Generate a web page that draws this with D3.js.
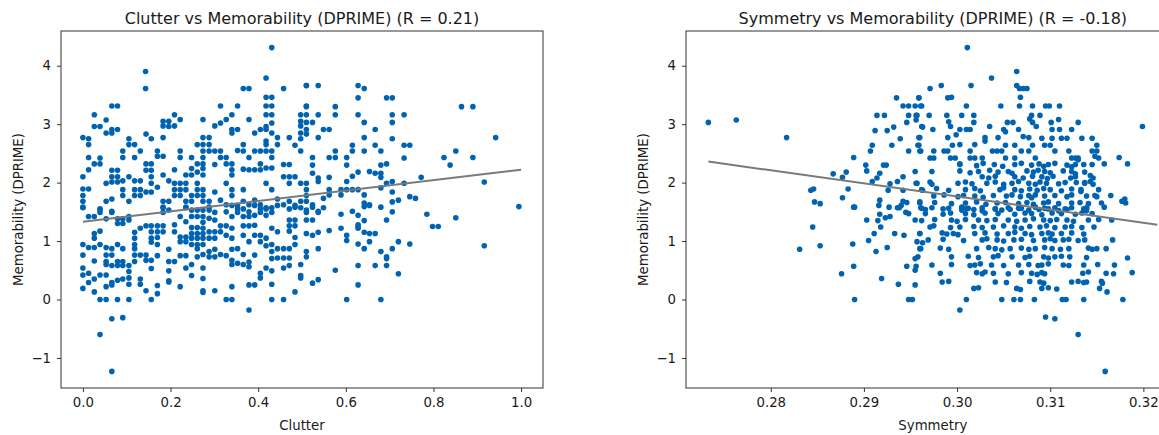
<!DOCTYPE html>
<html>
<head>
<meta charset="utf-8">
<script src="https://cdn.jsdelivr.net/npm/d3@7"></script>
<style>
  body { margin: 0; background: #fff; }
  text { font-family: "DejaVu Sans", sans-serif; fill: #1a1a1a; }
</style>
</head>
<body>
<script>
// clutter vs memorability (clutter, dprime)
const clutterPoints = [
  [0.431,4.31],[0.143,3.90],[0.143,3.61],[0.418,3.79],[0.366,3.61],[0.379,3.61],[0.458,3.61],[0.51,3.66],
  [0.418,3.46],[0.431,3.46],[0.418,3.31],[0.431,3.31],[0.314,3.31],[0.353,3.31],[0.066,3.31],[0.079,3.31],
  [0.026,3.16],[0.418,3.16],[0.431,3.16],[0.340,3.16],[0.209,3.16],[0.497,3.16],
  [0.026,2.96],[0.039,2.96],[0.053,3.07],[0.053,2.85],[0.066,2.85],[0.066,2.91],[0.079,2.91],
  [0.0,2.77],[0.013,2.75],[0.013,2.65],[0.144,2.83],[0.156,2.75],
  [0.183,3.05],[0.183,2.97],[0.196,3.05],[0.196,2.96],[0.209,2.97],[0.222,3.08],[0.183,2.77],
  [0.274,3.08],[0.301,2.97],[0.314,3.02],[0.327,3.08],[0.340,2.91],[0.340,2.85],[0.353,2.91],[0.379,3.08],
  [0.392,2.85],[0.405,2.91],[0.418,2.96],[0.418,2.91],[0.431,3.02],[0.431,2.85],[0.444,2.77],[0.471,2.77],
  [0.497,3.05],[0.497,2.97],[0.497,2.85],[0.497,2.75],[0.51,3.31],
  [0.105,2.75],[0.105,2.65],[0.118,2.65],[0.091,2.54],[0.091,2.43],[0.118,2.43],[0.131,2.54],
  [0.013,2.43],[0.026,2.32],[0.039,2.32],[0.039,2.42],[0.0,2.10],[0.013,2.22],[0.0,1.89],[0.013,1.89],
  [0.0,1.78],[0.0,1.68],[0.0,1.58],[0.039,1.54],[0.053,1.99],
  [0.066,2.21],[0.066,2.10],[0.066,2.01],[0.079,2.21],[0.079,2.10],[0.079,2.01],
  [0.053,1.68],[0.066,1.72],[0.066,1.51],[0.091,2.03],[0.091,1.88],[0.091,1.78],
  [0.105,2.10],[0.118,2.03],[0.131,2.03],[0.118,1.88],[0.131,1.88],[0.118,1.78],[0.131,1.78],
  [0.144,2.32],[0.144,2.21],[0.156,2.32],[0.156,2.21],[0.156,2.10],[0.156,1.99],[0.156,1.84],
  [0.170,2.54],[0.170,2.45],[0.183,2.45],[0.183,2.13],[0.170,1.92],[0.144,1.84],[0.196,2.03],[0.209,2.22],
  [0.209,1.99],[0.209,1.88],[0.209,1.78],[0.222,1.99],[0.222,1.88],[0.222,1.78],[0.222,2.54],[0.222,2.43],
  [0.235,2.13],[0.235,1.99],[0.235,1.88],[0.235,1.68],[0.235,1.58],
  [0.248,2.43],[0.248,2.24],[0.248,2.13],[0.261,2.65],[0.261,2.32],[0.261,2.18],
  [0.274,2.77],[0.274,2.65],[0.274,2.54],[0.274,2.43],[0.274,2.32],[0.274,2.24],[0.274,2.13],
  [0.288,2.77],[0.288,2.65],[0.288,2.54],[0.301,2.54],[0.314,2.54],[0.314,2.43],[0.327,2.43],[0.327,2.32],
  [0.340,2.32],[0.340,2.22],[0.340,2.13],[0.301,2.31],
  [0.353,2.55],[0.366,2.65],[0.366,2.54],[0.379,2.43],[0.392,2.54],[0.405,2.54],[0.418,2.54],[0.431,2.54],
  [0.366,2.23],[0.379,2.22],[0.392,2.22],[0.405,2.22],[0.418,2.25],[0.431,2.25],[0.405,2.32],[0.431,2.43],[0.418,2.65],[0.418,2.71],
  [0.444,2.65],[0.458,2.31],[0.471,2.31],[0.458,2.10],[0.471,2.10],[0.484,2.10],[0.471,1.99],[0.484,2.64],[0.497,2.54],[0.497,1.99],[0.51,1.99],
  [0.418,1.99],[0.431,1.88],[0.366,1.88],[0.366,1.68],[0.327,1.99],[0.340,1.88],[0.340,1.78],[0.301,1.84],
  [0.261,1.99],[0.261,1.88],[0.261,1.78],[0.274,1.88],[0.274,1.78],[0.274,1.68],[0.248,1.78],[0.248,1.68],
  [0.288,1.68],[0.288,1.58],[0.183,1.68],[0.183,1.58],[0.196,1.68],[0.105,1.68],
  [0.314,1.70],[0.327,1.62],[0.379,1.62],[0.392,1.70],[0.405,1.62],[0.444,1.72],[0.458,1.62],[0.471,1.68],[0.484,1.58],[0.353,1.55],[0.418,1.55],
  [0.0,1.57],[0.013,1.42],[0.026,1.42],[0.039,1.55],[0.039,1.49],[0.053,1.38],[0.066,1.49],[0.079,1.38],[0.079,1.30],[0.091,1.38],[0.091,1.30],
  [0.105,1.42],[0.105,1.36],[0.131,1.22],[0.144,1.26],[0.156,1.26],[0.156,1.16],[0.156,1.05],[0.156,0.98],
  [0.170,1.26],[0.170,1.16],[0.170,1.06],[0.183,1.26],[0.183,1.16],[0.183,1.57],[0.183,1.49],[0.196,1.53],
  [0.209,1.28],[0.209,1.16],[0.222,1.42],[0.235,1.33],[0.235,1.57],
  [0.248,1.53],[0.248,1.42],[0.261,1.53],[0.261,1.42],[0.274,1.53],[0.274,1.42],[0.288,1.53],[0.288,1.39],[0.301,1.49],[0.301,1.36],
  [0.222,1.07],[0.222,0.99],[0.235,1.07],[0.235,0.99],[0.248,1.23],[0.248,1.13],[0.248,1.05],[0.248,0.94],
  [0.261,1.23],[0.261,1.13],[0.261,1.05],[0.261,0.94],[0.261,0.87],[0.274,1.32],[0.274,1.22],[0.274,1.13],[0.274,1.05],[0.274,0.94],
  [0.288,1.16],[0.288,1.05],[0.301,1.16],[0.301,1.05],[0.314,1.26],[0.314,1.16],[0.327,1.26],[0.327,1.10],[0.340,1.22],[0.340,1.05],
  [0.327,1.50],[0.340,1.42],[0.340,1.61],[0.353,1.61],[0.353,1.49],[0.366,1.55],[0.366,1.42],[0.379,1.50],[0.379,1.42],[0.392,1.61],[0.392,1.44],
  [0.405,1.55],[0.405,1.49],[0.418,1.57],[0.418,1.44],[0.431,1.57],[0.431,1.49],[0.444,1.61],
  [0.471,1.55],[0.471,1.36],[0.471,1.26],[0.471,1.17],[0.484,1.61],[0.497,1.57],[0.484,1.36],[0.484,1.26],
  [0.366,1.26],[0.366,1.10],[0.379,1.26],[0.379,0.99],[0.392,1.27],[0.392,1.10],[0.405,1.10],[0.405,0.99],[0.418,1.05],[0.431,1.22],[0.431,0.94],[0.444,1.16],
  [0.0,0.94],[0.0,0.76],[0.013,0.89],[0.026,0.89],[0.026,1.13],[0.026,1.05],[0.039,1.17],[0.039,0.94],[0.053,0.89],[0.053,0.76],[0.053,0.65],[0.053,0.60],
  [0.066,0.87],[0.066,0.76],[0.066,0.58],[0.079,0.94],[0.079,0.65],[0.079,0.58],[0.091,0.87],[0.091,0.65],[0.091,0.58],
  [0.105,0.58],[0.105,0.48],[0.105,0.37],[0.105,0.26],
  [0.118,1.15],[0.118,1.05],[0.118,0.94],[0.118,0.87],[0.118,0.76],[0.118,0.65],
  [0.131,0.76],[0.144,0.76],[0.144,0.67],[0.156,0.67],[0.156,0.53],[0.170,0.75],[0.170,0.94],
  [0.196,0.86],[0.196,0.65],[0.196,0.49],[0.196,0.32],[0.209,0.65],
  [0.222,0.75],[0.235,0.75],[0.235,0.54],[0.248,0.60],[0.248,0.41],[0.261,0.73],[0.274,0.77],[0.274,0.54],[0.274,0.36],
  [0.288,0.82],[0.288,0.73],[0.301,0.86],[0.301,0.73],[0.314,0.77],[0.327,0.75],[0.340,0.86],[0.340,0.67],[0.340,0.60],
  [0.353,0.87],[0.353,0.62],[0.366,0.77],[0.366,0.60],[0.379,0.64],[0.379,0.56],[0.392,0.76],[0.405,0.45],
  [0.418,0.92],[0.418,0.54],[0.431,0.82],[0.431,0.70],[0.431,0.49],[0.444,0.87],[0.444,0.71],[0.458,0.87],[0.458,0.71],[0.458,0.54],
  [0.471,0.87],[0.471,0.71],[0.471,0.58],[0.484,1.06],[0.484,0.94],[0.497,0.60],[0.497,0.41],
  [0.0,0.54],[0.0,0.42],[0.0,0.19],[0.013,0.45],[0.013,0.29],[0.026,0.66],[0.026,0.35],[0.026,0.13],[0.039,0.42],[0.039,0.0],
  [0.053,0.42],[0.053,0.22],[0.053,0.0],[0.066,0.29],[0.066,0.25],[0.079,0.33],[0.079,0.0],[0.091,0.35],[0.105,0.0],
  [0.131,0.35],[0.131,0.26],[0.144,0.15],[0.156,0.0],[0.170,0.24],[0.170,0.10],[0.196,0.30],[0.222,0.22],
  [0.274,0.15],[0.274,0.12],[0.301,0.15],[0.327,0.0],[0.340,0.0],[0.340,0.22],[0.379,0.25],[0.392,0.25],[0.405,0.37],[0.431,0.26],[0.431,0.0],
  [0.458,0.0],[0.484,0.13],[0.497,0.37],
  [0.066,-0.33],[0.091,-0.31],[0.039,-0.60],[0.066,-1.23],[0.379,-0.18],
  [0.510,3.66],[0.537,3.66],[0.628,3.66],[0.642,3.61],[0.628,3.45],[0.693,3.45],[0.706,3.45],
  [0.510,3.30],[0.576,3.30],[0.864,3.30],[0.890,3.30],
  [0.510,3.16],[0.537,3.16],[0.576,3.16],[0.628,3.16],[0.706,3.16],[0.733,3.16],
  [0.510,3.03],[0.524,3.03],[0.642,3.03],[0.706,3.03],
  [0.510,2.91],[0.510,2.83],[0.549,2.91],[0.562,2.91],[0.667,2.91],
  [0.537,2.77],[0.642,2.77],[0.706,2.75],[0.942,2.77],
  [0.615,2.64],[0.667,2.64],[0.733,2.64],[0.746,2.64],
  [0.524,2.43],[0.562,2.43],[0.576,2.43],[0.576,2.54],[0.602,2.43],[0.615,2.54],[0.642,2.54],[0.680,2.54],
  [0.602,2.30],[0.628,2.18],[0.693,2.32],[0.680,2.30],[0.733,2.42],
  [0.824,2.43],[0.890,2.43],[0.851,2.54],[0.838,2.30],
  [0.524,2.30],[0.524,2.16],[0.537,2.08],[0.537,2.02],[0.562,2.09],[0.602,2.02],[0.615,2.11],[0.654,2.19],[0.667,2.16],[0.680,2.16],[0.680,2.09],[0.706,2.02],[0.693,1.99],[0.733,1.99],[0.772,2.09],
  [0.510,1.88],[0.510,1.78],[0.497,1.68],[0.510,1.68],[0.524,1.62],[0.537,1.51],[0.549,1.73],[0.562,1.88],[0.562,1.79],[0.589,1.88],[0.589,1.79],[0.602,1.88],[0.615,1.88],[0.628,1.88],[0.642,1.79],[0.642,1.65],[0.654,1.62],[0.680,1.91],[0.706,1.84],[0.706,1.67],[0.720,1.70],[0.746,1.76],[0.759,1.73],[0.916,2.01],[0.995,1.59],
  [0.785,1.46],[0.851,1.40],[0.798,1.25],[0.811,1.25],[0.916,0.92],
  [0.510,1.53],[0.510,1.49],[0.510,1.36],[0.524,1.36],[0.537,1.49],[0.524,1.58],[0.549,1.57],[0.589,1.46],[0.615,1.51],[0.628,1.44],[0.642,1.35],[0.693,1.36],[0.706,1.50],[0.642,1.59],[0.654,1.61],[0.680,1.58],
  [0.510,1.13],[0.524,1.10],[0.537,1.15],[0.562,1.18],[0.589,1.22],[0.602,1.10],[0.602,1.01],[0.628,1.28],[0.628,1.25],[0.628,1.22],[0.642,1.15],[0.654,1.13],[0.667,1.13],[0.654,0.99],[0.628,0.95],[0.642,0.87],[0.680,0.82],[0.693,0.73],[0.693,0.70],[0.706,0.87],[0.720,0.99],[0.746,0.95],
  [0.537,0.87],[0.510,0.82],[0.510,0.73],[0.524,0.28],[0.537,0.34],[0.576,0.50],[0.628,0.58],[0.667,0.58],[0.693,0.58],[0.720,0.44],[0.628,0.25],[0.602,0.0],[0.680,0.0]
];

// symmetry vs memorability (symmetry, dprime)
const symmetryPoints = [
  [0.2733,3.03],[0.2763,3.07],[0.2817,2.77],[0.2935,3.45],
  [0.2942,3.31],[0.2948,3.31],[0.2955,3.31],[0.2959,3.45],[0.2961,3.31],[0.2948,3.15],[0.2956,3.15],[0.2946,3.03],[0.2956,3.07],[0.2963,2.95],
  [0.2914,3.15],[0.2922,3.15],[0.2912,2.89],[0.2925,2.89],[0.2932,2.95],
  [0.2909,2.64],[0.2907,2.54],[0.2930,2.64],[0.2939,2.75],[0.2960,2.77],[0.2958,2.64],[0.2960,2.54],[0.2948,2.54],
  [0.2889,2.43],[0.2902,2.30],[0.2903,2.20],[0.2921,2.30],[0.2924,2.30],[0.2917,2.16],[0.2914,2.08],[0.2909,2.02],
  [0.2867,2.15],[0.2881,2.18],[0.2877,2.09],[0.2843,1.87],[0.2846,1.89],[0.2883,1.89],
  [0.2928,1.98],[0.2936,2.02],[0.2942,2.10],[0.2926,1.87],[0.2942,1.87],[0.2956,1.99],[0.2963,1.87],
  [0.2847,1.67],[0.2853,1.64],[0.2877,1.74],[0.2889,1.58],[0.2917,1.70],[0.2916,1.61],[0.2927,1.58],[0.2938,1.57],[0.2942,1.68],[0.2946,1.66],[0.2960,1.67],[0.2961,1.57],
  [0.2831,0.86],[0.2845,1.24],[0.2853,0.92],[0.2876,0.44],[0.2888,0.95],[0.2889,0.57],[0.2890,0.0],[0.2890,1.58],
  [0.2903,1.36],[0.2905,1.01],[0.2911,1.13],[0.2915,1.35],[0.2918,1.24],[0.2917,1.46],[0.2923,1.40],[0.2928,1.42],
  [0.2913,0.82],[0.2919,0.36],[0.2925,0.89],[0.2933,1.13],[0.2937,0.26],[0.2943,1.10],[0.2946,0.57],[0.2948,0.0],[0.2952,0.0],
  [0.2955,0.25],[0.2955,0.50],[0.2956,0.57],[0.2955,0.70],[0.2958,0.73],[0.2957,0.99],[0.2960,1.13],[0.2960,0.87],[0.2963,0.97],
  [0.2936,1.57],[0.2945,1.49],[0.2948,1.47],[0.2940,1.61],
  [0.3011,4.31],[0.3064,3.90],[0.3037,3.79],[0.3015,3.66],[0.3064,3.66],[0.3067,3.61],[0.3071,3.61],[0.3075,3.61],[0.3068,3.46],
  [0.2971,3.61],[0.2983,3.66],[0.2990,3.45],[0.2994,3.46],[0.2959,3.45],
  [0.2962,3.31],[0.3010,3.31],[0.3047,3.31],[0.3067,3.31],[0.3081,3.31],[0.3095,3.31],[0.3099,3.31],[0.3110,3.31],
  [0.2957,3.15],[0.2970,3.15],[0.2989,3.15],[0.3005,3.15],[0.3018,3.15],[0.3080,3.15],[0.3089,3.15],[0.3109,3.08],[0.3130,3.03],
  [0.3018,3.03],[0.3014,2.91],[0.3010,2.91],[0.3035,2.96],[0.3054,3.03],[0.3060,3.03],[0.3052,2.87],[0.3050,2.91],[0.3066,2.91],[0.3078,3.09],[0.3081,3.03],[0.3085,2.96],[0.3101,3.03],[0.3102,2.91],[0.3110,2.91],[0.3123,2.91],
  [0.2962,2.96],[0.2974,2.91],[0.2991,3.04],[0.2993,2.96],[0.3003,2.91],[0.2999,2.82],[0.2990,2.77],
  [0.2959,2.77],[0.2959,2.64],[0.2961,2.54],
  [0.2971,2.42],[0.2975,2.42],[0.2975,2.54],[0.2986,2.54],[0.2990,2.54],[0.2993,2.42],[0.2998,2.42],[0.3003,2.32],[0.2995,2.64],[0.3003,2.65],[0.3014,2.54],[0.3019,2.65],[0.3014,2.42],[0.3019,2.42],[0.3027,2.42],[0.3030,2.77],[0.3030,2.71],[0.3044,2.77],[0.3038,2.54],[0.3043,2.54],[0.3048,2.54],[0.3052,2.64],[0.3052,2.42],[0.3062,2.42],[0.3062,2.64],[0.3069,2.54],[0.3071,2.79],[0.3077,2.77],[0.3081,2.64],[0.3077,2.54],[0.3084,2.42],[0.3091,2.76],[0.3094,2.64],[0.3100,2.64],[0.3102,2.76],[0.3105,2.54],[0.3112,2.76],[0.3118,2.76],[0.3120,2.54],[0.3123,2.42],[0.3130,2.42],[0.3134,2.76],[0.3145,2.76],[0.3145,2.54],[0.3150,2.64],[0.3150,2.54],[0.3152,2.42],[0.3127,2.42],
  [0.3174,2.43],[0.3183,2.32],[0.3158,2.32],[0.3199,2.96],
  [0.3165,1.78],[0.3177,1.68],[0.3180,1.72],
  [0.3152,1.88],[0.3148,1.78],[0.3139,1.57],[0.3133,1.85],[0.3143,2.02],[0.3146,2.08],[0.3137,2.00],[0.3128,2.00],[0.3122,2.08],[0.3127,2.15],[0.3136,2.31],[0.3148,2.45],[0.3145,2.31],[0.3127,2.31],[0.3130,2.39],
  [0.3003,2.31],[0.3021,2.29],[0.3028,2.33],[0.3040,2.31],[0.3049,2.28],[0.3062,2.31],[0.3069,2.33],[0.3080,2.30],[0.3088,2.32],[0.3093,2.28],[0.3098,2.31],[0.3105,2.33],[0.3118,2.30],[0.3123,2.27],
  [0.2955,2.19],[0.2973,2.19],[0.3003,2.20],[0.3014,2.17],[0.3023,2.19],[0.3035,2.21],[0.3044,2.18],[0.3055,2.19],[0.3059,2.16],[0.3075,2.20],[0.3082,2.18],[0.3087,2.21],[0.3094,2.19],[0.3100,2.17],[0.3114,2.20],[0.3123,2.19],[0.3137,2.18],
  [0.3027,2.10],[0.3034,2.08],[0.3041,2.11],[0.3062,2.10],[0.3071,2.08],[0.3081,2.11],[0.3091,2.10],[0.3097,2.07],[0.3103,2.11],[0.3127,2.10],[0.3143,2.12],
  [0.2957,1.99],[0.2971,2.01],[0.2973,1.97],[0.3001,1.99],[0.3009,2.01],[0.3016,1.98],[0.3032,1.99],[0.3041,2.01],[0.3050,1.97],[0.3059,1.99],[0.3066,2.02],[0.3077,1.99],[0.3084,1.97],[0.3089,2.01],[0.3096,1.99],[0.3109,1.98],[0.3116,2.00],[0.3137,1.99],[0.3146,1.97],
  [0.2962,1.88],[0.2978,1.90],[0.2991,1.87],[0.3009,1.88],[0.3019,1.90],[0.3025,1.86],[0.3046,1.88],[0.3050,1.91],[0.3062,1.88],[0.3069,1.86],[0.3078,1.89],[0.3086,1.87],[0.3093,1.90],[0.3100,1.88],[0.3112,1.86],[0.3123,1.89],[0.3133,1.88],
  [0.2975,1.77],[0.2986,1.79],[0.3001,1.76],[0.3007,1.78],[0.3019,1.77],[0.3028,1.75],[0.3039,1.78],[0.3053,1.77],[0.3059,1.79],[0.3068,1.76],[0.3077,1.78],[0.3080,1.74],[0.3084,1.79],[0.3094,1.77],[0.3105,1.78],[0.3118,1.76],[0.3123,1.79],[0.3139,1.77],[0.3150,1.76],
  [0.2960,1.65],[0.2976,1.66],[0.2994,1.64],[0.3009,1.65],[0.3021,1.67],[0.3031,1.63],[0.3043,1.65],[0.3052,1.66],[0.3066,1.64],[0.3075,1.66],[0.3082,1.63],[0.3093,1.65],[0.3098,1.67],[0.3109,1.64],[0.3123,1.65],[0.3132,1.66],[0.3141,1.64],[0.3155,1.65],[0.3181,1.65],
  [0.2966,1.54],[0.2985,1.55],[0.3005,1.53],[0.3010,1.56],[0.3018,1.54],[0.3027,1.52],[0.3041,1.55],[0.3048,1.53],[0.3057,1.54],[0.3069,1.56],[0.3077,1.53],[0.3088,1.54],[0.3098,1.55],[0.3109,1.52],[0.3118,1.54],[0.3136,1.55],[0.3139,1.52],
  [0.2962,1.56],[0.2973,1.57],[0.2991,1.56],[0.3005,1.58],[0.3012,1.56],[0.3027,1.57],[0.3041,1.55],[0.3055,1.57],[0.3066,1.56],[0.3084,1.58],[0.3094,1.56],[0.3105,1.57],[0.3116,1.55],[0.3123,1.57],[0.3139,1.56],[0.3158,1.58],
  [0.2966,1.47],[0.2985,1.46],[0.2993,1.48],[0.3009,1.47],[0.3018,1.45],[0.3030,1.48],[0.3044,1.47],[0.3062,1.46],[0.3073,1.48],[0.3080,1.47],[0.3091,1.45],[0.3102,1.48],[0.3112,1.47],[0.3127,1.46],[0.3134,1.48],[0.3145,1.47],
  [0.2955,1.36],[0.2962,1.35],[0.2976,1.37],[0.2994,1.36],[0.3000,1.34],[0.3009,1.37],[0.3023,1.36],[0.3032,1.35],[0.3041,1.37],[0.3055,1.36],[0.3064,1.34],[0.3073,1.36],[0.3082,1.38],[0.3093,1.36],[0.3100,1.35],[0.3107,1.37],[0.3118,1.36],[0.3125,1.34],[0.3141,1.36],[0.3152,1.37],[0.3166,1.36],
  [0.2971,1.24],[0.2975,1.26],[0.2993,1.23],[0.3003,1.24],[0.3018,1.25],[0.3027,1.23],[0.3039,1.24],[0.3050,1.26],[0.3062,1.24],[0.3069,1.22],[0.3078,1.25],[0.3089,1.24],[0.3096,1.26],[0.3105,1.23],[0.3116,1.24],[0.3123,1.25],[0.3134,1.23],[0.3147,1.24],
  [0.2960,1.13],[0.2984,1.14],[0.2989,1.12],[0.2996,1.13],[0.3001,1.11],[0.3019,1.13],[0.3030,1.14],[0.3043,1.12],[0.3055,1.13],[0.3062,1.15],[0.3073,1.13],[0.3080,1.11],[0.3091,1.13],[0.3098,1.14],[0.3102,1.12],[0.3112,1.13],[0.3123,1.14],[0.3136,1.12],
  [0.2969,1.02],[0.2985,1.03],[0.3007,1.01],[0.3027,1.02],[0.3032,1.04],[0.3043,1.02],[0.3050,1.00],[0.3061,1.02],[0.3069,1.03],[0.3082,1.01],[0.3094,1.02],[0.3100,1.04],[0.3105,1.01],[0.3114,1.02],[0.3120,1.03],[0.3130,1.01],[0.3137,1.02],[0.3167,1.02],
  [0.2961,0.87],[0.2982,0.88],[0.2991,0.86],[0.3021,0.87],[0.3034,0.89],[0.3041,0.87],[0.3048,0.85],[0.3057,0.87],[0.3069,0.88],[0.3077,0.86],[0.3084,0.87],[0.3094,0.89],[0.3102,0.87],[0.3111,0.86],[0.3120,0.87],[0.3141,0.88],[0.3145,0.86],[0.3150,0.87],[0.3160,0.87],
  [0.2994,0.73],[0.3012,0.74],[0.3023,0.72],[0.3039,0.73],[0.3044,0.75],[0.3059,0.73],[0.3073,0.72],[0.3078,0.74],[0.3093,0.73],[0.3098,0.71],[0.3105,0.73],[0.3112,0.74],[0.3121,0.73],[0.3139,0.72],[0.3183,0.71],
  [0.2973,0.59],[0.2994,0.60],[0.3014,0.58],[0.3019,0.59],[0.3025,0.61],[0.3037,0.59],[0.3050,0.58],[0.3066,0.59],[0.3077,0.60],[0.3087,0.58],[0.3091,0.59],[0.3098,0.61],[0.3114,0.59],[0.3120,0.58],[0.3136,0.59],[0.3151,0.60],[0.3169,0.59],
  [0.2982,0.45],[0.3021,0.46],[0.3027,0.44],[0.3030,0.47],[0.3039,0.45],[0.3055,0.44],[0.3069,0.46],[0.3080,0.45],[0.3086,0.43],[0.3091,0.46],[0.3094,0.44],[0.3135,0.45],[0.3141,0.47],[0.3160,0.45],[0.3168,0.44],[0.3188,0.46],
  [0.2984,0.30],[0.2991,0.31],[0.3041,0.30],[0.3053,0.29],[0.3078,0.31],[0.3089,0.30],[0.3093,0.28],[0.3123,0.30],[0.3130,0.31],[0.3136,0.29],[0.3139,0.30],[0.3155,0.31],[0.3156,0.28],
  [0.3018,0.19],[0.3023,0.20],[0.3064,0.19],[0.3068,0.17],[0.3091,0.19],[0.3098,0.20],[0.3107,0.18],[0.3153,0.19],[0.3161,0.13],
  [0.3010,0.0],[0.3048,0.0],[0.3061,0.0],[0.3068,0.0],[0.3083,0.0],[0.3113,0.0],[0.3117,0.0],[0.3136,0.0],[0.3178,0.0],
  [0.3003,-0.18],[0.3095,-0.30],[0.3105,-0.33],[0.3130,-0.60],[0.3159,-1.23]
];

const yTicks = [-1, 0, 1, 2, 3, 4];
const clutterTicks = [0.0, 0.2, 0.4, 0.6, 0.8, 1.0];
const symmetryTicks = [0.28, 0.29, 0.30, 0.31, 0.32];

// fitted lines (x, dprime)
const clutterFit = [[0.0, 1.33], [1.0, 2.22]];
const symmetryFit = [[0.2733, 2.36], [0.3215, 1.28]];

const W = 1159, H = 435;
const dotColor = "#0063b1";

const svg = d3.select("body").append("svg")
  .attr("width", W).attr("height", H);

function panel(opts) {
  const { left, right, top, bottom, xDomain, yDomain, points, fit, xTicks, xFmt, title, xLabel, id } = opts;
  const x = d3.scaleLinear().domain(xDomain).range([left, right]);
  const y = d3.scaleLinear().domain(yDomain).range([bottom, top]);

  const g = svg.append("g");

  g.append("clipPath").attr("id", id)
    .append("rect")
    .attr("x", left).attr("y", top)
    .attr("width", right - left).attr("height", bottom - top);

  const plot = g.append("g").attr("clip-path", `url(#${id})`);

  plot.selectAll("circle")
    .data(points)
    .enter()
    .append("circle")
    .attr("cx", d => x(d[0]))
    .attr("cy", d => y(d[1]))
    .attr("r", 2.8)
    .attr("fill", dotColor);

  plot.append("path")
    .datum(fit)
    .attr("d", d3.line().x(d => x(d[0])).y(d => y(d[1])))
    .attr("fill", "none")
    .attr("stroke", "#7a7a7a")
    .attr("stroke-width", 2);

  // frame
  g.append("rect")
    .attr("x", left).attr("y", top)
    .attr("width", right - left).attr("height", bottom - top)
    .attr("fill", "none")
    .attr("stroke", "#333")
    .attr("stroke-width", 1);

  const xAxis = g.append("g")
    .attr("transform", `translate(0,${bottom})`)
    .call(d3.axisBottom(x).tickValues(xTicks).tickFormat(xFmt).tickSize(4).tickPadding(6));
  const yAxis = g.append("g")
    .attr("transform", `translate(${left},0)`)
    .call(d3.axisLeft(y).tickValues(yTicks)
      .tickFormat(d => d < 0 ? "\u2212" + Math.abs(d) : String(d))
      .tickSize(4).tickPadding(6));

  [xAxis, yAxis].forEach(a => {
    a.select(".domain").remove();
    a.attr("font-family", null).attr("font-size", null);
    a.selectAll("line").attr("stroke", "#333");
    a.selectAll("text").style("font-size", "13.3px").attr("fill", "#1a1a1a");
  });

  g.append("text")
    .attr("x", (left + right) / 2).attr("y", 24)
    .attr("text-anchor", "middle")
    .style("font-size", "16px")
    .text(title);

  g.append("text")
    .attr("x", (left + right) / 2).attr("y", 430)
    .attr("text-anchor", "middle")
    .style("font-size", "13.3px")
    .text(xLabel);

  g.append("text")
    .attr("transform", `translate(${left - 38},${(top + bottom) / 2}) rotate(-90)`)
    .attr("text-anchor", "middle")
    .style("font-size", "13.3px")
    .text("Memorability (DPRIME)");
}

panel({
  id: "clipL", left: 61, right: 543, top: 31, bottom: 388,
  xDomain: [-0.05, 1.05], yDomain: [-1.514, 4.594],
  points: clutterPoints, fit: clutterFit,
  xTicks: clutterTicks, xFmt: d3.format(".1f"),
  title: "Clutter vs Memorability (DPRIME) (R = 0.21)", xLabel: "Clutter"
});

panel({
  id: "clipR", left: 686, right: 1179.7, top: 31, bottom: 388,
  xDomain: [0.2709, 0.3239], yDomain: [-1.514, 4.594],
  points: symmetryPoints, fit: symmetryFit,
  xTicks: symmetryTicks, xFmt: d3.format(".2f"),
  title: "Symmetry vs Memorability (DPRIME) (R = -0.18)", xLabel: "Symmetry"
});
</script>
</body>
</html>
